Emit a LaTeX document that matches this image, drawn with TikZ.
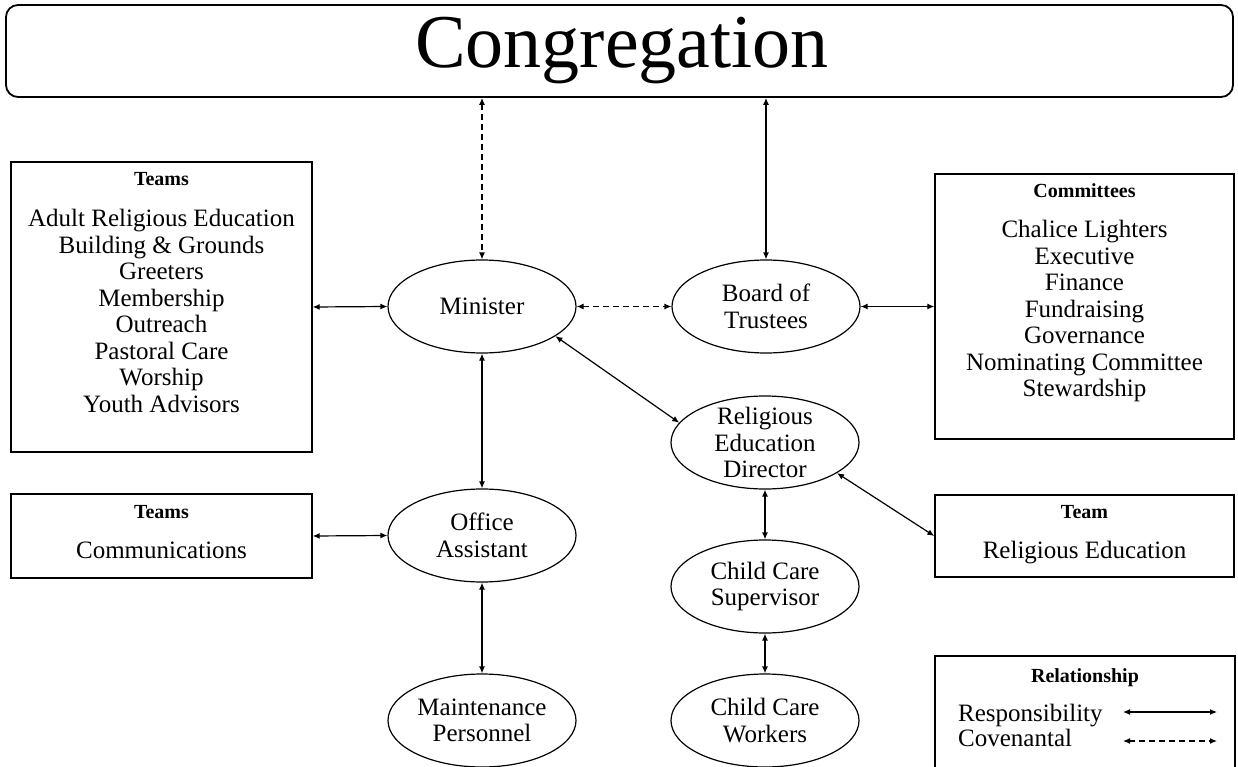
\documentclass[tikz,border=0pt]{standalone}
\usepackage{fontspec}
\setmainfont{Liberation Serif}
\usetikzlibrary{shapes.geometric,arrows.meta}
\begin{document}
\begin{tikzpicture}[x=1pt,y=-1pt,
  box/.style={draw, line width=1.4pt, rectangle, inner sep=0pt},
  oval/.style={draw, ellipse, line width=1.2pt, minimum width=188pt, minimum height=93pt, inner sep=0pt},
  txt/.style={align=center, font=\fontsize{25}{26.5}\selectfont, inner sep=0pt},
  head/.style={font=\fontsize{20}{22}\selectfont\bfseries, inner sep=0pt},
  rel/.style={line width=1.2pt, {Latex[length=7pt,width=6pt]}-{Latex[length=7pt,width=6pt]}},
  cov/.style={rel, dash pattern=on 6pt off 4pt},
]
\useasboundingbox (0,0) rectangle (1238,767);

% Congregation
\node[box, rounded corners=12pt, line width=1.8pt, minimum width=1227pt, minimum height=92pt] (cong) at (619.5,51) {};
\node[anchor=base, font=\fontsize{76}{76}\selectfont, inner sep=0pt] (congT) at (622,68) {Congregation};

% Teams box (left, big)
\node[box, minimum width=301pt, minimum height=290pt] (teams) at (161.5,307) {};
\node[head, anchor=base] (teamsH) at (161.5,186) {Teams};
\node[txt] (teamsL) at (161.5,311) {Adult Religious Education\\Building \& Grounds\\Greeters\\Membership\\Outreach\\Pastoral Care\\Worship\\Youth Advisors};

% Committees box
\node[box, minimum width=299pt, minimum height=265pt] (cmt) at (1084.5,306.5) {};
\node[head, anchor=base] (cmtH) at (1084.5,198) {Committees};
\node[txt] (cmtL) at (1084.5,311) {Chalice Lighters\\Executive\\Finance\\Fundraising\\Governance\\Nominating Committee\\Stewardship};

% Lower Teams box
\node[box, minimum width=301pt, minimum height=84pt] (comms) at (161.5,536) {};
\node[head, anchor=base] (commsH) at (161.5,518) {Teams};
\node[txt, anchor=base] (commsL) at (161.5,558) {Communications};

% Team (right)
\node[box, minimum width=299pt, minimum height=82pt] (teamR) at (1084.5,536) {};
\node[head, anchor=base] (teamRH) at (1084.5,518) {Team};
\node[txt, anchor=base] (teamRL) at (1084.5,558) {Religious Education};

% Legend
\node[box, minimum width=300pt, minimum height=130pt] (leg) at (1085,721) {};
\node[head, anchor=base] (legH) at (1085,682) {Relationship};
\node[txt, anchor=base west] (legR) at (958,721) {Responsibility};
\node[txt, anchor=base west] (legC) at (958,746.5) {Covenantal};
\coordinate (r1) at (1123,712);
\coordinate (r2) at (1217,712);
\coordinate (c1) at (1123,741);
\coordinate (c2) at (1217,741);
\draw[rel] (r1) -- (r2);
\draw[cov] (c1) -- (c2);

% Ellipses
\node[oval, label={[txt]center:Minister}] (min) at (482,306.5) {};
\node[oval, label={[txt]center:{Board of\\Trustees}}] (board) at (766,306.5) {};
\node[oval, label={[txt]center:{Religious\\Education\\Director}}] (red) at (765,442.5) {};
\node[oval, label={[txt]center:{Office\\Assistant}}] (off) at (482,535.5) {};
\node[oval, label={[txt]center:{Child Care\\Supervisor}}] (ccs) at (765,586.5) {};
\node[oval, label={[txt]center:{Maintenance\\Personnel}}] (maint) at (482,720.5) {};
\node[oval, label={[txt]center:{Child Care\\Workers}}] (ccw) at (765,720.5) {};

% Connectors
\draw[cov] (min.north |- cong.south) -- (min.north);
\draw[rel] (board.north |- cong.south) -- (board.north);
\draw[rel] (teams.east) -- (min.west);
\draw[cov] (min.east) -- (board.west);
\draw[rel] (board.east) -- (cmt.west);
\draw[rel] (min.-22) -- (red.167);
\draw[rel] (min.south) -- (off.north);
\draw[rel] (comms.east) -- (off.west);
\draw[rel] (off.south) -- (maint.north);
\draw[rel] (red.south) -- (ccs.north);
\draw[rel] (ccs.south) -- (ccw.north);
\draw[rel] (red.-23) -- (teamR.west);
\end{tikzpicture}
\end{document}
